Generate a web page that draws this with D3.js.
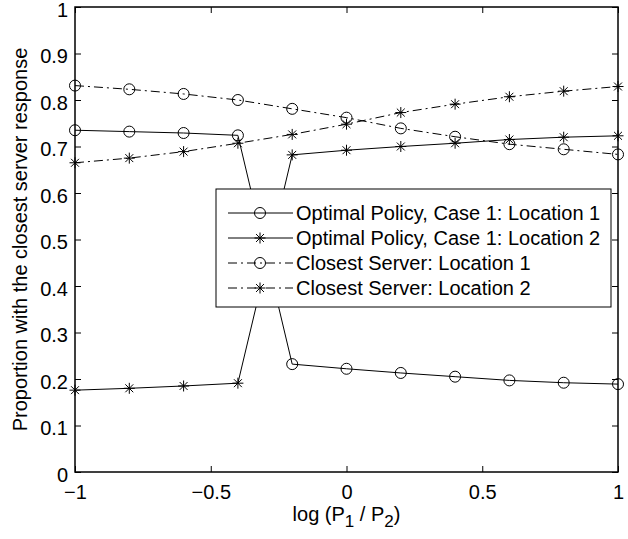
<!DOCTYPE html>
<html>
<head>
<meta charset="utf-8">
<script src="https://cdn.jsdelivr.net/npm/d3@7"></script>
<style>
  body { margin: 0; background: #fff; }
  text { font-family: "Liberation Sans", Arial, Helvetica, sans-serif; }
</style>
</head>
<body>
<script>
// Data
const xVals = [-1, -0.8, -0.6, -0.4, -0.2, 0, 0.2, 0.4, 0.6, 0.8, 1]
const optLoc1 = [0.735, 0.732, 0.729, 0.724, 0.232, 0.222, 0.213, 0.205, 0.197, 0.192, 0.189]
const optLoc2 = [0.176, 0.180, 0.185, 0.191, 0.682, 0.692, 0.700, 0.707, 0.715, 0.720, 0.723]
const closeLoc1 = [0.831, 0.823, 0.813, 0.800, 0.781, 0.762, 0.739, 0.721, 0.705, 0.694, 0.683]
const closeLoc2 = [0.665, 0.675, 0.689, 0.707, 0.726, 0.748, 0.773, 0.791, 0.807, 0.819, 0.829]
const xTicks = [-1, -0.5, 0, 0.5, 1]
const yTicks = [0, 0.1, 0.2, 0.3, 0.4, 0.5, 0.6, 0.7, 0.8, 0.9, 1]

const series = [
    { name: "Optimal Policy, Case 1: Location 1", values: optLoc1, marker: "circle", dash: null },
    { name: "Optimal Policy, Case 1: Location 2", values: optLoc2, marker: "star", dash: null },
    { name: "Closest Server: Location 1", values: closeLoc1, marker: "circle", dash: "9,4,2,4" },
    { name: "Closest Server: Location 2", values: closeLoc2, marker: "star", dash: "9,4,2,4" },
]

// Layout
const width = 628
const height = 539
const plotL = 75, plotR = 618, plotT = 7, plotB = 472
const fontSize = 20

let svg = d3.select("body").append("svg")
    .attr("width", width)
    .attr("height", height)

let xScale = d3.scaleLinear().domain([-1, 1]).range([plotL, plotR])
let yScale = d3.scaleLinear().domain([0, 1]).range([plotB, plotT])

let fmt = d => d < 0 ? "\u2212" + Math.abs(d) : String(d)

// Axes (ticks point inward, box on all sides)
svg.append("g").attr("transform", `translate(0, ${plotB})`)
    .call(d3.axisBottom(xScale).tickValues(xTicks).tickSizeInner(-6).tickSizeOuter(0).tickPadding(13).tickFormat(fmt))
svg.append("g").attr("transform", `translate(0, ${plotT})`)
    .call(d3.axisTop(xScale).tickValues(xTicks).tickSizeInner(-6).tickSizeOuter(0).tickFormat(""))
let yAx = svg.append("g").attr("transform", `translate(${plotL}, 0)`)
    .call(d3.axisLeft(yScale).tickValues(yTicks).tickSizeInner(-6).tickSizeOuter(0).tickPadding(7).tickFormat(fmt))
yAx.selectAll(".tick text").attr("dy", "0.45em")
svg.append("g").attr("transform", `translate(${plotR}, 0)`)
    .call(d3.axisRight(yScale).tickValues(yTicks).tickSizeInner(-6).tickSizeOuter(0).tickFormat(""))

svg.selectAll(".domain").remove()
svg.selectAll(".tick line").attr("stroke", "#000").attr("stroke-width", 1)
svg.selectAll(".tick text").style("font-size", fontSize + "px").attr("fill", "#000")

svg.append("rect")
    .attr("x", plotL).attr("y", plotT)
    .attr("width", plotR - plotL).attr("height", plotB - plotT)
    .attr("fill", "none").attr("stroke", "#000").attr("stroke-width", 1.5)

// Markers
const starPath = (cx, cy, s) => {
    let d = `M${cx - s},${cy}L${cx + s},${cy}M${cx},${cy - s}L${cx},${cy + s}`
    let k = s * 0.72
    d += `M${cx - k},${cy - k}L${cx + k},${cy + k}M${cx - k},${cy + k}L${cx + k},${cy - k}`
    return d
}
const drawMarker = (g, type, cx, cy) => {
    if (type === "circle") {
        g.append("circle").attr("cx", cx).attr("cy", cy).attr("r", 5.5)
            .attr("fill", "none").attr("stroke", "#000").attr("stroke-width", 1)
    } else {
        g.append("path").attr("d", starPath(cx, cy, 5.5))
            .attr("fill", "none").attr("stroke", "#000").attr("stroke-width", 1)
    }
}

// Lines and markers
let line = d3.line().x(d => xScale(d[0])).y(d => yScale(d[1]))
series.forEach(s => {
    let pts = xVals.map((x, i) => [x, s.values[i]])
    svg.append("path")
        .datum(pts)
        .attr("d", line)
        .attr("fill", "none")
        .attr("stroke", "#000")
        .attr("stroke-width", 1)
        .attr("stroke-dasharray", s.dash)
    let g = svg.append("g")
    pts.forEach(p => drawMarker(g, s.marker, xScale(p[0]), yScale(p[1])))
})

// Legend
const lgX = 216, lgY = 189, lgW = 395, lgH = 118
let lg = svg.append("g")
lg.append("rect").attr("x", lgX).attr("y", lgY).attr("width", lgW).attr("height", lgH)
    .attr("fill", "#fff").attr("stroke", "#000").attr("stroke-width", 1)
series.forEach((s, i) => {
    let cy = lgY + 24 + i * 25
    lg.append("line").attr("x1", lgX + 12).attr("x2", lgX + 77).attr("y1", cy).attr("y2", cy)
        .attr("stroke", "#000").attr("stroke-width", 1).attr("stroke-dasharray", s.dash)
    drawMarker(lg, s.marker, lgX + 44, cy)
    lg.append("text").attr("x", lgX + 80).attr("y", cy).attr("dy", "0.36em")
        .style("font-size", fontSize + "px").text(s.name)
})

// Axis labels
let xl = svg.append("text")
    .attr("x", (plotL + plotR) / 2).attr("y", 521)
    .attr("text-anchor", "middle")
    .style("font-size", fontSize + "px")
xl.append("tspan").text("log (P")
xl.append("tspan").attr("dy", 6).style("font-size", "17px").text("1")
xl.append("tspan").attr("dy", -6).text(" / P")
xl.append("tspan").attr("dy", 6).style("font-size", "17px").text("2")
xl.append("tspan").attr("dy", -6).text(")")

svg.append("text")
    .attr("transform", `translate(27, ${(plotT + plotB) / 2}) rotate(-90)`)
    .attr("text-anchor", "middle")
    .style("font-size", fontSize + "px")
    .text("Proportion with the closest server response")
</script>
</body>
</html>
